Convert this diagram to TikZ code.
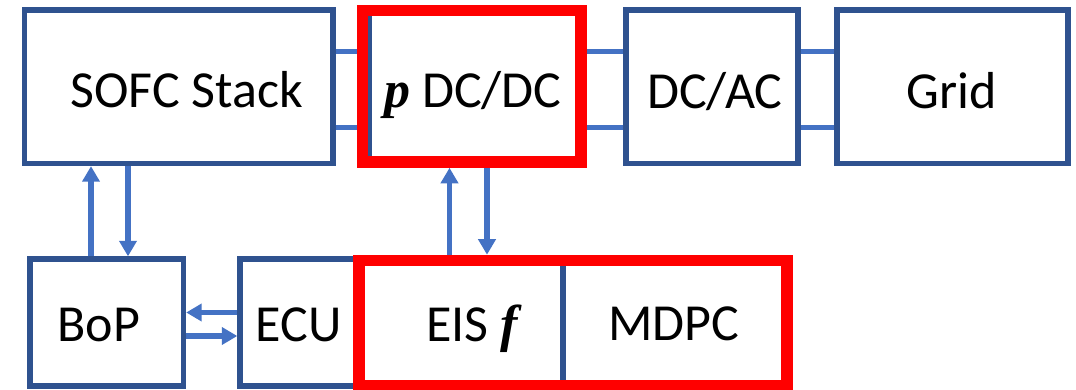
\documentclass[tikz,border=0pt]{standalone}
\usepackage{fontspec}
\setmainfont{Carlito}
\newfontfamily\tnrfont{Liberation Serif}
\usetikzlibrary{arrows.meta}
\definecolor{boxblue}{HTML}{2F528F}
\definecolor{linkblue}{HTML}{4472C4}
\definecolor{hired}{HTML}{FF0000}
\tikzset{
  blk/.style={draw=boxblue, line width=5.4pt, inner sep=0pt, rectangle},
  hilite/.style={draw=hired, line width=11.6pt, inner sep=0pt, rectangle},
  link/.style={draw=linkblue, line width=4.8pt},
  flow/.style={draw=linkblue, line width=5.6pt, -{Triangle[length=15.5pt,width=17pt]}},
  lbl/.style={anchor=base, inner sep=0pt, font=\fontsize{52}{62}\selectfont},
}
\newcommand{\bfit}[1]{{\tnrfont\bfseries\itshape #1}}
\begin{document}
\begin{tikzpicture}[x=1pt,y=-1pt]
\fill[white] (0,0) rectangle (1076,389);
\useasboundingbox (0,0) rectangle (1076,389);
% top row
\node[blk, minimum width=308.5pt, minimum height=153.5pt] (sofc) at (178.75,86.75) {};
\node[blk, minimum width=211pt, minimum height=148pt] (dcdcin) at (474.5,86) {};
\node[hilite, minimum width=218.5pt, minimum height=151.5pt] (dcdc) at (471.75,86.25) {};
\node[blk, minimum width=172pt, minimum height=153.5pt] (dcac) at (712,86.75) {};
\node[blk, minimum width=231pt, minimum height=153.5pt] (grid) at (952.5,86.75) {};
% bottom row
\node[blk, minimum width=153.5pt, minimum height=127pt] (bop) at (106.75,322.5) {};
\node[blk, minimum width=116pt, minimum height=127pt] (ecu) at (298,322.5) {};
\node[blk, minimum width=204pt, minimum height=125.5pt] (eis) at (461,323.25) {};
\node[blk, minimum width=224pt, minimum height=125.5pt] (mdpc) at (675,323.25) {};
\node[hilite, minimum width=428pt, minimum height=125.5pt] (ctrl) at (573,323.25) {};
% connectors
\coordinate (ya) at (0,51.7);
\coordinate (yb) at (0,127.3);
\foreach \p in {ya,yb}{
  \draw[link] (\p -| sofc.east) -- (\p -| dcdc.west);
  \draw[link] (\p -| dcdc.east) -- (\p -| dcac.west);
  \draw[link] (\p -| dcac.east) -- (\p -| grid.west);
}
\coordinate (xa) at (91,0);
\coordinate (xb) at (128,0);
\coordinate (xc) at (449.5,0);
\coordinate (xd) at (487,0);
\draw[flow] (xa |- bop.north) -- (xa |- sofc.south);
\draw[flow] (xb |- sofc.south) -- (xb |- bop.north);
\draw[flow] (xc |- ctrl.north) -- (xc |- dcdc.south);
\draw[flow] (xd |- dcdc.south) -- (xd |- ctrl.north);
\coordinate (ha) at (0,312.5);
\coordinate (hb) at (0,336);
\draw[flow] (ha -| ecu.west) -- (ha -| bop.east);
\draw[flow] (hb -| bop.east) -- (hb -| ecu.west);
% labels
\node[lbl] (tsofc) at (186.5,107) {SOFC Stack};
\node[lbl] (tdcdc) at (473,107) {\bfit{p} DC/DC};
\node[lbl] (tdcac) at (714.8,108) {DC/AC};
\node[lbl] (tgrid) at (952,108) {Grid};
\node[lbl] (tbop) at (98.7,341) {BoP};
\node[lbl] (tecu) at (298.5,341) {ECU};
\node[lbl] (teis) at (472,341) {EIS \bfit{f}};
\node[lbl] (tmdpc) at (674,340) {MDPC};
\end{tikzpicture}
\end{document}
